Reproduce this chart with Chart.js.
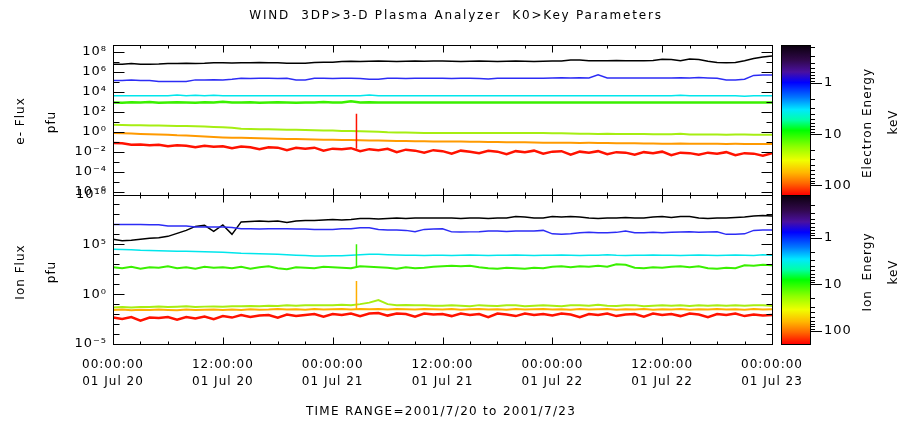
<!DOCTYPE html>
<html>
<head>
<meta charset="utf-8">
<script src="https://cdn.jsdelivr.net/npm/chart.js@4.4.1/dist/chart.umd.min.js"></script>
<style>
  body { margin: 0; background: #fff; }
  #wrap { position: relative; width: 906px; height: 423px; overflow: hidden; }
  #plot { position: absolute; left: 0; top: 0; }
  .txt { position: absolute; font-family: "DejaVu Sans", sans-serif; font-size: 12px; color: #000;
         white-space: pre; letter-spacing: 1px; transform: translate(-50%, -50%); }
  .rot { transform: translate(-50%, -50%) rotate(-90deg); }
</style>
</head>
<body>
<div id="wrap">
  <canvas id="plot" width="906" height="423"></canvas>
  <div class="txt" style="left:456px; top:15px; letter-spacing:1.8px">WIND  3DP&gt;3-D Plasma Analyzer  K0&gt;Key Parameters</div>
  <div class="txt rot" style="left:20px; top:121px">e- Flux</div>
  <div class="txt rot" style="left:51px; top:122px">pfu</div>
  <div class="txt rot" style="left:20px; top:272px">Ion Flux</div>
  <div class="txt rot" style="left:51px; top:272px">pfu</div>
  <div class="txt rot" style="left:867px; top:123px">Electron Energy</div>
  <div class="txt rot" style="left:893px; top:122px">keV</div>
  <div class="txt rot" style="left:867px; top:272px">Ion  Energy</div>
  <div class="txt rot" style="left:893px; top:272px">keV</div>
  <div class="txt" style="left:441px; top:411px; letter-spacing:1.3px">TIME RANGE=2001/7/20 to 2001/7/23</div>
</div>
<script>
// hours since 2001-07-20 00:00
const hours = [0,1,2,3,4,5,6,7,8,9,10,11,12,13,14,15,16,17,18,19,20,21,22,23,24,
  25,26,27,28,29,30,31,32,33,34,35,36,37,38,39,40,41,42,43,44,45,46,47,48,
  49,50,51,52,53,54,55,56,57,58,59,60,61,62,63,64,65,66,67,68,69,70,71,72];

const xTicks = [0, 12, 24, 36, 48, 60, 72];
const xTickLabels = [
  ["00:00:00", "01 Jul 20"], ["12:00:00", "01 Jul 20"],
  ["00:00:00", "01 Jul 21"], ["12:00:00", "01 Jul 21"],
  ["00:00:00", "01 Jul 22"], ["12:00:00", "01 Jul 22"],
  ["00:00:00", "01 Jul 23"]
];

// y axes, in powers of ten
const eRange = [-6.3, 8.7];
const eDecades = [-6,-5,-4,-3,-2,-1,0,1,2,3,4,5,6,7,8];
const eLabeled = [-6,-4,-2,0,2,4,6,8];
const iRange = [-5, 10];
const iDecades = [-5,-4,-3,-2,-1,0,1,2,3,4,5,6,7,8,9,10];
const iLabeled = [-5,0,5,10];

// colour bars (keV)
const eBarRange = [0.18, 150];
const iBarRange = [0.12, 190];
const barTicks = [1, 10, 100];

// electron flux, log10(pfu), one value per hour
const eBlack = [6.77,6.77,6.85,6.78,6.78,6.8,6.85,6.85,6.87,6.85,6.87,6.93,6.93,6.9,6.93,
  6.93,6.95,6.93,6.93,6.88,6.87,6.87,6.95,6.97,6.97,7.05,7.08,7.05,7.08,7.1,7.08,7.05,7.08,
  7.1,7.08,7.1,7.1,7.08,7.05,7.08,7.1,7.08,7.05,7.08,7.1,7.08,7.05,7.08,7.1,7.1,7.2,7.2,
  7.13,7.12,7.13,7.15,7.13,7.12,7.13,7.15,7.27,7.25,7.13,7.3,7.25,7.08,6.95,6.93,6.95,7.12,
  7.35,7.5,7.6];
const eBlue = [5.13,5.13,5.18,5.13,5.13,5.03,5.03,5.05,5.03,5.2,5.2,5.22,5.2,5.27,5.37,5.35,
  5.37,5.37,5.35,5.37,5.2,5.2,5.37,5.37,5.35,5.37,5.37,5.35,5.27,5.27,5.37,5.37,5.35,5.37,
  5.37,5.37,5.37,5.35,5.37,5.37,5.35,5.3,5.37,5.37,5.37,5.37,5.37,5.37,5.4,5.42,5.4,5.42,
  5.4,5.7,5.4,5.38,5.4,5.4,5.38,5.4,5.4,5.38,5.42,5.4,5.45,5.4,5.37,5.2,5.2,5.27,5.65,5.7,5.7];
const eCyan = [3.6,3.6,3.6,3.6,3.6,3.6,3.6,3.68,3.6,3.66,3.6,3.67,3.6,3.6,3.6,3.6,3.6,3.6,
  3.6,3.6,3.6,3.6,3.6,3.6,3.6,3.6,3.6,3.6,3.68,3.6,3.6,3.6,3.6,3.6,3.6,3.6,3.6,3.6,3.6,3.6,
  3.6,3.6,3.6,3.6,3.6,3.6,3.6,3.6,3.6,3.6,3.6,3.6,3.6,3.6,3.6,3.6,3.6,3.6,3.6,3.6,3.6,3.6,
  3.66,3.6,3.6,3.6,3.6,3.6,3.6,3.55,3.6,3.6,3.6];
const eGreen = [2.93,2.9,2.95,2.93,2.98,2.9,2.93,2.96,2.93,2.9,2.95,2.93,3.0,2.92,2.93,2.96,
  2.9,2.93,2.95,2.93,2.9,2.94,2.93,2.97,2.93,2.92,3.05,2.93,2.95,2.93,2.92,2.93,2.94,2.93,
  2.93,2.92,2.93,2.93,2.94,2.93,2.92,2.93,2.93,2.94,2.93,2.93,2.92,2.93,2.93,2.94,2.93,2.92,
  2.93,2.93,2.94,2.93,2.93,2.92,2.93,2.94,2.93,2.93,2.92,2.93,2.93,2.94,2.93,2.92,2.93,2.93,
  2.94,2.93,2.93];
const eYellow = [0.7,0.68,0.66,0.65,0.63,0.62,0.6,0.58,0.57,0.55,0.52,0.48,0.45,0.4,0.3,0.28,
  0.25,0.24,0.22,0.2,0.19,0.17,0.15,0.13,0.12,0.08,0.06,0.05,0.03,0.0,-0.05,-0.07,-0.08,-0.1,
  -0.12,-0.13,-0.13,-0.12,-0.13,-0.14,-0.13,-0.12,-0.13,-0.14,-0.13,-0.12,-0.14,-0.14,-0.15,
  -0.16,-0.18,-0.2,-0.21,-0.22,-0.2,-0.23,-0.22,-0.23,-0.24,-0.25,-0.26,-0.25,-0.2,-0.27,
  -0.28,-0.27,-0.28,-0.3,-0.29,-0.28,-0.3,-0.3,-0.3];
const eOrange = [-0.13,-0.15,-0.18,-0.22,-0.25,-0.27,-0.3,-0.36,-0.38,-0.42,-0.48,-0.52,-0.57,
  -0.6,-0.6,-0.62,-0.65,-0.68,-0.7,-0.72,-0.74,-0.76,-0.78,-0.8,-0.8,-0.82,-0.84,-0.85,-0.87,
  -0.88,-0.9,-0.92,-0.93,-0.95,-0.96,-0.97,-0.97,-0.98,-0.99,-1.0,-1.0,-1.02,-1.03,-1.05,
  -1.06,-1.07,-1.08,-1.1,-1.1,-1.1,-1.12,-1.13,-1.12,-1.13,-1.13,-1.15,-1.16,-1.17,-1.18,
  -1.19,-1.2,-1.2,-1.19,-1.21,-1.2,-1.22,-1.22,-1.23,-1.22,-1.23,-1.24,-1.23,-1.23];
const eRed = [-1.13,-1.15,-1.3,-1.28,-1.35,-1.3,-1.45,-1.35,-1.4,-1.55,-1.42,-1.5,-1.45,-1.65,
  -1.48,-1.55,-1.75,-1.55,-1.6,-1.85,-1.62,-1.7,-1.6,-1.9,-1.7,-1.75,-1.65,-1.95,-1.75,-1.85,
  -1.72,-2.05,-1.8,-1.9,-2.1,-1.85,-1.95,-2.2,-1.9,-2.0,-2.15,-1.92,-2.0,-2.25,-1.95,-2.05,
  -1.9,-2.2,-2.0,-1.95,-2.3,-2.0,-2.1,-1.95,-2.25,-2.05,-2.1,-2.3,-2.05,-2.15,-2.0,-2.35,
  -2.1,-2.15,-2.3,-2.1,-2.2,-2.05,-2.35,-2.15,-2.2,-2.4,-2.15];

// ion flux, log10(pfu), one value per hour
const iBlack = [5.5,5.35,5.4,5.5,5.6,5.65,5.8,6.1,6.4,6.8,6.9,6.3,6.95,6.0,7.25,7.3,7.35,7.3,
  7.35,7.2,7.35,7.4,7.4,7.45,7.5,7.45,7.5,7.6,7.6,7.55,7.6,7.65,7.6,7.65,7.65,7.65,7.65,
  7.65,7.6,7.65,7.65,7.6,7.65,7.65,7.8,7.75,7.65,7.65,7.8,7.75,7.8,7.75,7.65,7.6,7.65,7.65,
  7.7,7.65,7.65,7.75,7.8,7.7,7.8,7.8,7.65,7.6,7.65,7.65,7.7,7.75,7.85,7.9,7.85];
const iBlue = [7.0,7.0,7.0,6.98,6.97,6.97,6.83,6.85,6.83,6.73,6.75,6.73,6.73,6.7,6.57,6.57,
  6.55,6.57,6.57,6.57,6.55,6.55,6.5,6.5,6.5,6.57,6.57,6.67,6.67,6.5,6.43,6.43,6.4,6.27,6.5,
  6.55,6.57,6.25,6.23,6.25,6.27,6.33,6.35,6.3,6.33,6.33,6.35,6.4,6.05,6.0,6.05,6.17,6.2,6.15,
  6.17,6.2,6.33,6.17,6.15,6.2,6.17,6.2,6.23,6.25,6.2,6.23,6.25,6.0,6.0,6.05,6.4,6.43,6.45];
const iCyan = [4.5,4.47,4.45,4.4,4.38,4.35,4.33,4.3,4.3,4.27,4.25,4.23,4.2,4.15,4.1,4.08,4.05,
  4.02,4.0,3.95,3.9,3.87,3.83,3.83,3.85,3.85,3.9,3.95,4.0,4.0,3.95,3.92,3.9,3.9,3.88,3.9,
  3.9,3.88,3.9,3.92,3.9,3.88,3.9,3.9,3.93,3.9,3.88,3.9,3.9,3.92,3.9,3.88,3.9,3.9,3.95,3.9,
  3.88,3.9,3.9,3.92,3.9,3.9,3.88,3.9,3.93,3.9,3.88,3.9,3.92,3.9,3.88,3.95,3.9];
const iGreen = [2.7,2.6,2.75,2.55,2.7,2.65,2.8,2.6,2.7,2.55,2.75,2.65,2.7,2.6,2.75,2.55,2.7,
  2.8,2.6,2.5,2.7,2.65,2.6,2.75,2.7,2.65,2.6,2.8,2.75,2.7,2.65,2.55,2.7,2.6,2.65,2.75,2.8,
  2.85,2.8,2.85,2.7,2.6,2.55,2.65,2.6,2.55,2.65,2.6,2.75,2.8,2.7,2.8,2.75,2.85,2.75,3.0,2.95,
  2.65,2.6,2.7,2.65,2.75,2.8,2.7,2.8,2.6,2.55,2.65,2.6,2.9,2.85,2.95,2.9];
const iYellow = [-1.35,-1.3,-1.35,-1.28,-1.3,-1.25,-1.3,-1.27,-1.22,-1.28,-1.25,-1.23,-1.25,
  -1.2,-1.22,-1.18,-1.2,-1.15,-1.18,-1.12,-1.15,-1.1,-1.12,-1.1,-1.12,-1.05,-1.1,-1.0,-0.85,
  -0.6,-1.0,-1.1,-1.08,-1.12,-1.1,-1.15,-1.17,-1.12,-1.15,-1.2,-1.1,-1.15,-1.18,-1.1,-1.12,
  -1.2,-1.15,-1.1,-1.15,-1.2,-1.12,-1.1,-1.15,-1.05,-1.15,-1.18,-1.12,-1.1,-1.2,-1.15,-1.12,
  -1.15,-1.1,-1.18,-1.12,-1.15,-1.1,-1.17,-1.12,-1.15,-1.1,-1.12,-1.15];
const iOrange = [-1.6,-1.55,-1.62,-1.57,-1.6,-1.55,-1.58,-1.62,-1.55,-1.6,-1.57,-1.55,-1.58,
  -1.55,-1.6,-1.52,-1.57,-1.55,-1.5,-1.55,-1.52,-1.57,-1.5,-1.55,-1.52,-1.5,-1.55,-1.5,-1.52,
  -1.48,-1.55,-1.5,-1.52,-1.55,-1.5,-1.52,-1.55,-1.5,-1.57,-1.52,-1.5,-1.55,-1.52,-1.57,-1.5,
  -1.55,-1.52,-1.5,-1.55,-1.52,-1.57,-1.5,-1.55,-1.52,-1.5,-1.57,-1.52,-1.55,-1.5,-1.57,
  -1.52,-1.55,-1.5,-1.57,-1.52,-1.55,-1.5,-1.55,-1.52,-1.57,-1.5,-1.55,-1.52];
const iRed = [-2.35,-2.5,-2.3,-2.65,-2.35,-2.4,-2.3,-2.55,-2.3,-2.45,-2.25,-2.5,-2.2,-2.35,
  -2.1,-2.3,-2.15,-2.1,-2.35,-2.05,-2.2,-2.1,-2.0,-2.25,-2.0,-2.1,-1.95,-2.2,-1.95,-1.9,
  -2.15,-1.95,-2.0,-2.25,-1.95,-2.05,-2.0,-2.2,-1.95,-2.1,-2.0,-2.3,-1.95,-2.05,-2.2,-1.95,
  -2.1,-2.0,-2.15,-1.95,-2.05,-2.3,-2.0,-2.1,-1.95,-2.2,-2.05,-2.0,-2.25,-1.95,-2.1,-2.0,
  -2.2,-1.95,-2.05,-2.3,-2.0,-2.1,-1.95,-2.2,-2.05,-2.15,-2.1];

// short spikes near 01 Jul 21 02:36, [from, to]
const spikeHour = 26.6;
const eRedSpike = [-1.7, 1.8];
const iGreenSpike = [2.65, 5.0];
const iOrangeSpike = [-1.55, 1.33];

const barStops = [[0, "#0a000c"], [0.1, "#30084a"], [0.18, "#4a10a0"], [0.25, "#0000ff"],
  [0.35, "#0078ff"], [0.43, "#00e8ff"], [0.5, "#00ffa8"], [0.57, "#00ff00"], [0.68, "#90ff00"],
  [0.77, "#f0ff00"], [0.85, "#ffb800"], [0.92, "#ff6a00"], [1, "#ff0000"]];

const supDigits = { "0": "⁰", "1": "¹", "2": "²", "3": "³", "4": "⁴", "5": "⁵",
  "6": "⁶", "7": "⁷", "8": "⁸", "9": "⁹", "-": "⁻" };
function pow10Label(v, labeled) {
  const e = Math.round(Math.log10(v));
  if (!labeled.includes(e)) return "";
  return "10" + String(e).split("").map((ch) => supDigits[ch]).join("");
}

function line(vals, color, width, axis, order) {
  return {
    data: vals.map((v, i) => ({ x: hours[i], y: 10 ** v })),
    borderColor: color, borderWidth: width, yAxisID: axis, order: order,
    pointRadius: 0, tension: 0,
  };
}
function spike(pair, color, axis) {
  return {
    data: pair.map((v) => ({ x: spikeHour, y: 10 ** v })),
    borderColor: color, borderWidth: 1.5, yAxisID: axis, order: 0, pointRadius: 0,
  };
}

const datasets = [
  line(eBlack, "#000000", 1.5, "yE", 7),
  line(eBlue, "#2c2cf5", 1.5, "yE", 6),
  line(eCyan, "#00e6ec", 1.5, "yE", 5),
  line(eGreen, "#3af000", 2.5, "yE", 4),
  line(eYellow, "#a6ee12", 2, "yE", 3),
  line(eOrange, "#ff9a00", 2, "yE", 2),
  line(eRed, "#ff1200", 2.5, "yE", 1),
  spike(eRedSpike, "#ff1200", "yE"),
  line(iBlack, "#000000", 1.5, "yI", 7),
  line(iBlue, "#2c2cf5", 1.5, "yI", 6),
  line(iCyan, "#00e6ec", 1.5, "yI", 5),
  line(iGreen, "#3af000", 2, "yI", 4),
  line(iYellow, "#a6ee12", 2, "yI", 3),
  line(iOrange, "#ffae00", 2, "yI", 2),
  line(iRed, "#ff1200", 2.5, "yI", 1),
  spike(iGreenSpike, "#3af000", "yI"),
  spike(iOrangeSpike, "#ffae00", "yI"),
];

const tickFont = { family: "DejaVu Sans", size: 13 };

// fixed box sizes, and no extra room for the end labels
function fixSize(w, h) {
  return (s) => {
    if (w) s.width = w;
    if (h) s.height = h;
    s.paddingTop = 0; s.paddingBottom = 0; s.paddingLeft = 0; s.paddingRight = 0;
  };
}

function panelAxis(range, decades, labeled, weight) {
  return {
    type: "logarithmic", position: "left", stack: "flux", stackWeight: 1, weight: weight,
    min: 10 ** range[0], max: 10 ** range[1],
    afterBuildTicks: (s) => { s.ticks = decades.map((e) => ({ value: 10 ** e })); },
    afterFit: fixSize(113, 0),
    grid: { display: false, drawTicks: false }, border: { display: false },
    ticks: { autoSkip: false, padding: 6, color: "#000", font: tickFont,
      callback: (v) => pow10Label(v, labeled) },
  };
}
function barAxis(range, weight) {
  return {
    type: "logarithmic", position: "right", stack: "bar", stackWeight: 1, weight: weight,
    reverse: true, min: range[0], max: range[1],
    afterBuildTicks: (s) => { s.ticks = barTicks.map((v) => ({ value: v })); },
    afterFit: fixSize(134, 0),
    grid: { display: false, drawTicks: false }, border: { display: false },
    ticks: { autoSkip: false, padding: 52, color: "#000", font: tickFont,
      callback: (v) => String(v) },
  };
}

// boxes, tick marks, IDL style (inside the plot)
const frame = {
  id: "frame",
  beforeDraw(chart) { chart.ctx.letterSpacing = "1px"; },
  afterDatasetsDraw(chart) {
    const c = chart.ctx, a = chart.chartArea, sx = chart.scales.x;
    const L = Math.round(a.left) + 0.5, R = Math.round(a.right) + 0.5;
    c.save();
    c.strokeStyle = "#000";
    c.lineWidth = 1;
    for (const id of ["yE", "yI"]) {
      const s = chart.scales[id];
      const top = Math.round(s.top) + 0.5, bot = Math.round(s.bottom) + 0.5;
      c.strokeRect(L, top, R - L, bot - top);
      c.beginPath();
      for (let h = 0; h <= 72; h += 3) {
        const px = Math.round(sx.getPixelForValue(h)) + 0.5;
        const len = h % 12 === 0 ? 7 : 3;
        c.moveTo(px, top); c.lineTo(px, top + len);
        c.moveTo(px, bot); c.lineTo(px, bot - len);
      }
      for (const t of s.ticks) {
        const py = Math.round(s.getPixelForValue(t.value)) + 0.5;
        const len = t.label ? 11 : 6;
        c.moveTo(L, py); c.lineTo(L + len, py);
        c.moveTo(R, py); c.lineTo(R - len, py);
      }
      c.stroke();
    }
    c.restore();
  },
};

const colorbars = {
  id: "colorbars",
  afterDraw(chart) {
    const c = chart.ctx;
    c.save();
    for (const id of ["cE", "cI"]) {
      const s = chart.scales[id];
      const x0 = Math.round(s.left) + 9, w = 29;
      const top = Math.round(s.top), bot = Math.round(s.bottom);
      const g = c.createLinearGradient(0, top, 0, bot);
      barStops.forEach(([f, col]) => g.addColorStop(f, col));
      c.fillStyle = g;
      c.fillRect(x0, top, w, bot - top);
      c.strokeStyle = "#000";
      c.lineWidth = 1;
      c.strokeRect(x0 + 0.5, top + 0.5, w, bot - top);
      c.beginPath();
      for (const d of [0.1, 1, 10, 100]) {
        for (let k = 1; k <= 9; k++) {
          const v = k * d;
          if (v < s.min || v > s.max) continue;
          const py = Math.round(s.getPixelForValue(v)) + 0.5;
          c.moveTo(x0 + w, py);
          c.lineTo(x0 + w + (k === 1 ? 12 : 5), py);
        }
      }
      c.stroke();
    }
    c.restore();
  },
};

new Chart(document.getElementById("plot"), {
  type: "line",
  data: { datasets },
  options: {
    responsive: false, animation: false, events: [],
    layout: { padding: { top: 45, left: 0, right: 0, bottom: 0 } },
    plugins: { legend: { display: false }, tooltip: { enabled: false }, title: { display: false } },
    scales: {
      x: {
        type: "linear", position: "bottom", min: 0, max: 72,
        afterBuildTicks: (s) => { s.ticks = xTicks.map((v) => ({ value: v })); },
        afterFit: fixSize(0, 79),
        grid: { display: false, drawTicks: false }, border: { display: false },
        ticks: { autoSkip: false, maxRotation: 0, padding: 12, color: "#000",
          font: { family: "DejaVu Sans", size: 12, lineHeight: 1.42 },
          callback: (v, i) => xTickLabels[i] },
      },
      yI: panelAxis(iRange, iDecades, iLabeled, 0),
      yE: panelAxis(eRange, eDecades, eLabeled, 1),
      cE: barAxis(eBarRange, 0),
      cI: barAxis(iBarRange, 1),
    },
  },
  plugins: [frame, colorbars],
});
</script>
</body>
</html>
